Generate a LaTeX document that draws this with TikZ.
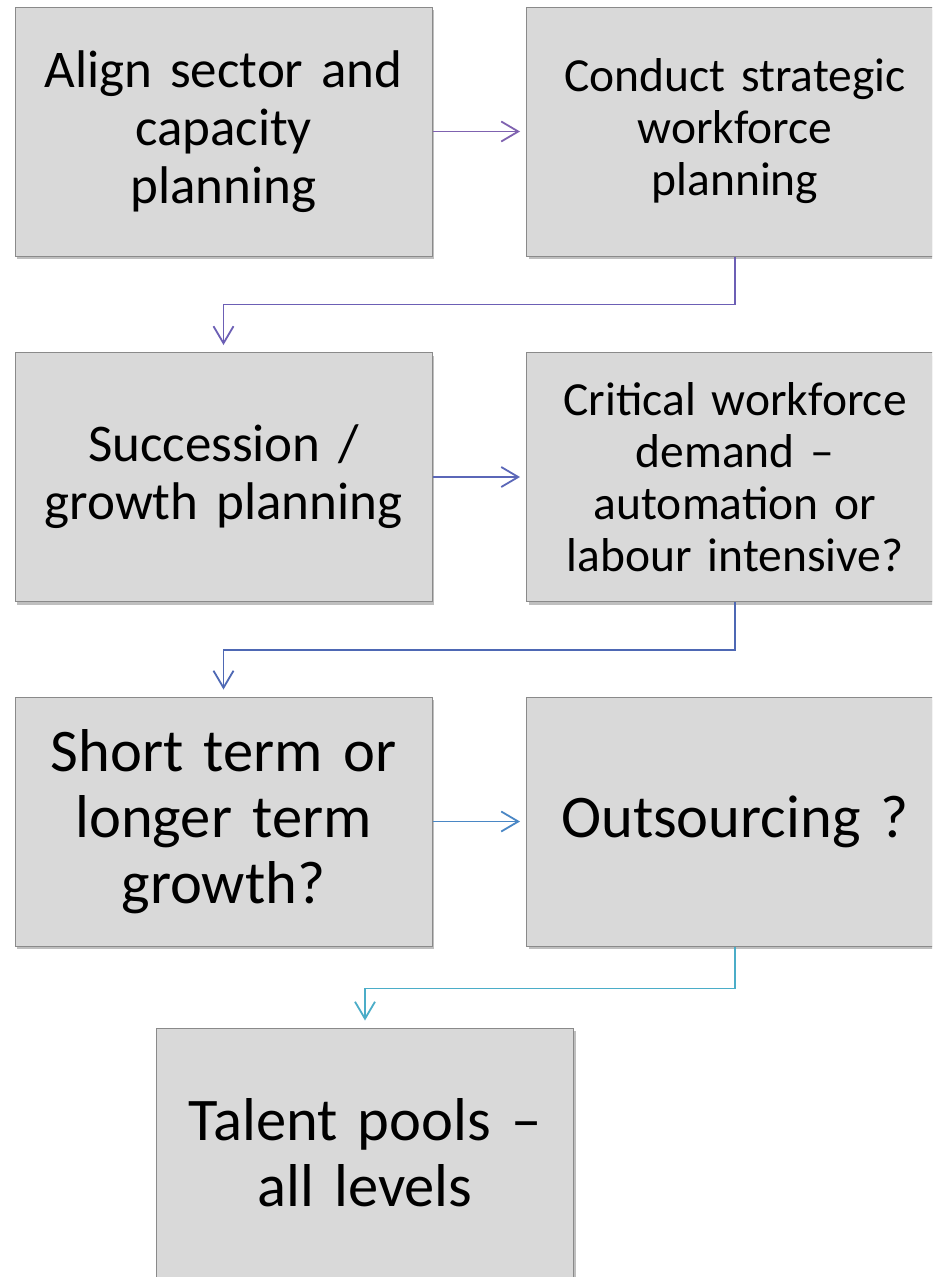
\documentclass[tikz,border=0pt]{standalone}
\usepackage{fontspec}
\setmainfont{Carlito}
\usetikzlibrary{arrows.meta,shadows}
\definecolor{boxfill}{HTML}{D9D9D9}
\definecolor{boxline}{HTML}{8A8A8A}
\definecolor{cA}{HTML}{7F62B0}
\definecolor{cB}{HTML}{6C5FB5}
\definecolor{cC}{HTML}{5B67B8}
\definecolor{cD}{HTML}{4E68B4}
\definecolor{cE}{HTML}{4A87C5}
\definecolor{cF}{HTML}{4BADC8}
\newcommand{\tightsp}{\spaceskip=0.226em\relax\xspaceskip=0.226em\relax}
\tikzset{
  flowbox/.style={rectangle, fill=boxfill, draw=boxline, line width=1pt,
    minimum width=417pt, minimum height=249pt, inner sep=0pt,
    align=center, text width=400pt,
    drop shadow={shadow xshift=2pt, shadow yshift=-3pt, opacity=0.25, fill=black}},
  fsmall/.style={font=\fontsize{47.5}{52}\selectfont\tightsp},
  fmid/.style={font=\fontsize{53}{58}\selectfont\tightsp},
  fbig/.style={font=\fontsize{60.5}{66}\selectfont\tightsp},
  conn/.style={line width=1.8pt, -{Straight Barb[length=17pt,width=20pt,line width=1.8pt]}},
}
\begin{document}
\begin{tikzpicture}[x=1pt,y=-1pt]
\useasboundingbox (0,0) rectangle (932,1277);
\clip (0,0) rectangle (932,1277);
\fill[white] (0,0) rectangle (932,1277);
\node[flowbox,fmid]   (b1) at (223.5,131.5) {Align sector and\\capacity\\planning};
\node[flowbox,fsmall] (b2) at (735,131.5) {Conduct strategic\\workforce\\planning};
\node[flowbox,fmid]   (b3) at (223.5,477) {Succession /\\growth planning};
\node[flowbox,fsmall] (b4) at (735,477) {Critical workforce\\demand --\\automation or\\labour intensive?};
\node[flowbox,fbig]   (b5) at (223.5,821.5) {Short term or\\longer term\\growth?};
\node[flowbox,fbig]   (b6) at (735,821.5) {Outsourcing ?};
\node[flowbox,fbig]   (b7) at (365,1152.5) {Talent pools --\\all levels};
\draw[conn,cA,shorten >=6pt] (b1.east) -- (b2.west);
\draw[conn,cB,shorten >=7pt] (b2.south) -- ++(0,48) -| (b3.north);
\draw[conn,cC,shorten >=6pt] (b3.east) -- (b4.west);
\draw[conn,cD,shorten >=7pt] (b4.south) -- ++(0,48) -| (b5.north);
\draw[conn,cE,shorten >=6pt] (b5.east) -- (b6.west);
\draw[conn,cF,shorten >=7pt] (b6.south) -- ++(0,42) -| (b7.north);
\end{tikzpicture}
\end{document}
